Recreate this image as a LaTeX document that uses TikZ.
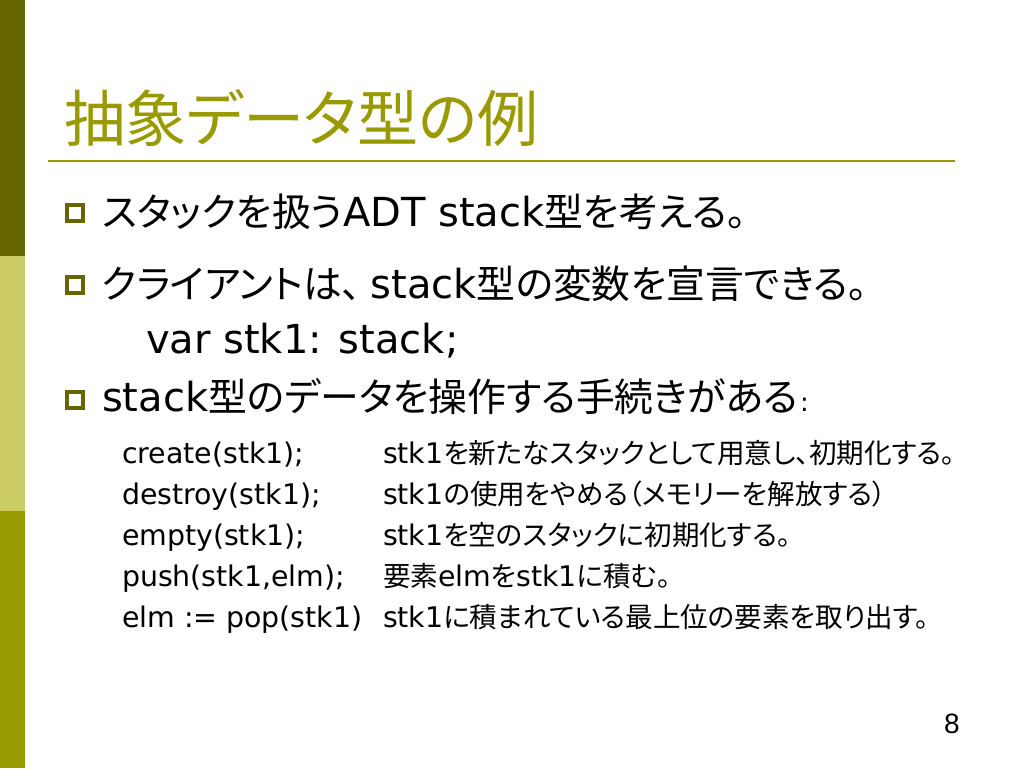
\documentclass[tikz,border=0pt]{standalone}
\usepackage{fontspec}
\setmainfont{DejaVu Sans}
\newfontfamily\jp{Noto Sans CJK JP}[CharacterWidth=AlternateProportional,Scale=0.97]
\newfontfamily\pagefont{Liberation Sans}
\definecolor{olivedark}{HTML}{666600}
\definecolor{olivemid}{HTML}{CCCC66}
\definecolor{olive}{HTML}{999900}
\newcommand{\J}[1]{{\jp #1}}
\tikzset{
  txt/.style={anchor=base west, inner sep=0pt, outer sep=0pt, text=black},
  lvlone/.style={txt, font=\fontsize{40}{48}\selectfont},
  lvltwo/.style={txt, font=\fontsize{28.4}{34}\selectfont},
  bulletbox/.style={draw=olivedark, line width=4pt, fill=white},
}
\begin{document}
\begin{tikzpicture}[x=1pt,y=-1pt]
\path[use as bounding box, fill=white] (0,0) rectangle (1024,768);
% left bar
\fill[olivedark] (0,0) rectangle (25,256);
\fill[olivemid] (0,256) rectangle (25,511);
\fill[olive] (0,511) rectangle (25,768);
% title
\node[txt, text=olive, font=\fontsize{63}{70}\selectfont\jp] (title) at (64,141) {抽象データ型の例};
\draw[olive, line width=2pt] (48,161) -- (955,161);
% bullets
\draw[bulletbox] (67,204.5) rectangle (83,220.5);
\draw[bulletbox] (67,276.5) rectangle (83,292.5);
\draw[bulletbox] (67,391.5) rectangle (83,407.5);
% level one
\node[lvlone] (l1) at (102,226) {\J{スタックを扱う}ADT stack\J{型を考える。}};
\node[lvlone] (l2) at (102,298) {\J{クライアントは、}\hspace{9pt}stack\J{型の変数を宣言できる。}};
\node[lvlone] (l2b) at (146,353) {var stk1: stack;};
\node[lvlone] (l3) at (102,411) {stack\J{型のデータを操作する手続きがある}\hspace{2pt}{\fontsize{26}{30}\selectfont :}};
% level two
\node[lvltwo] (c1) at (122,463) {create(stk1);};
\node[lvltwo] (c2) at (122,504) {destroy(stk1);};
\node[lvltwo] (c3) at (122,545) {empty(stk1);};
\node[lvltwo] (c4) at (122,586) {push(stk1,elm);};
\node[lvltwo] (c5) at (122,627) {elm := pop(stk1)};
\node[lvltwo] (d1) at (383,463) {stk1\J{を新たなスタックとして用意し、初期化する。}};
\node[lvltwo] (d2) at (383,504) {stk1\J{の使用をやめる（メモリーを解放する）}};
\node[lvltwo] (d3) at (383,545) {stk1\J{を空のスタックに初期化する。}};
\node[lvltwo] (d4) at (383,586) {\J{要素}elm\J{を}stk1\J{に積む。}};
\node[lvltwo] (d5) at (383,627) {stk1\J{に積まれている最上位の要素を取り出す。}};
% page number
\node[txt, font=\fontsize{28}{32}\selectfont\pagefont] (pg) at (944,733) {8};
\end{tikzpicture}
\end{document}
